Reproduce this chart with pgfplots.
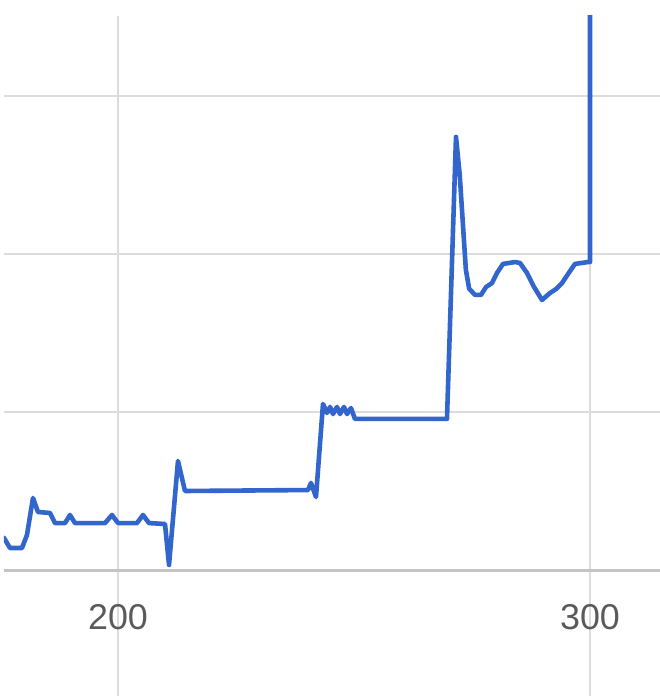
\documentclass[border=0pt]{standalone}
\usepackage{fontspec}
\setmainfont{Liberation Sans}
\usepackage{pgfplots}
\pgfplotsset{compat=1.18}
\definecolor{lineblue}{HTML}{3366CC}
\definecolor{gridc}{HTML}{DCDCDC}
\definecolor{axisc}{HTML}{C4C4C4}
\definecolor{labc}{HTML}{5A5A5A}
\begin{document}
\begin{tikzpicture}
\path[use as bounding box] (-4bp,-126bp) rectangle (656bp,570bp);
\draw[gridc, line width=2.5bp] (114bp,0) -- (114bp,-126bp);
\draw[gridc, line width=2.5bp] (586bp,0) -- (586bp,-126bp);
\begin{axis}[
  scale only axis,
  width=656bp, height=554bp,
  xmin=175.85, xmax=314.83,
  ymin=0, ymax=3.506,
  axis line style={draw=none},
  major tick length=0pt,
  xtick={200,300},
  ytick={1,2,3},
  yticklabels={},
  extra y ticks={0},
  extra y tick labels={},
  extra y tick style={grid style={axisc, line width=3bp}},
  xmajorgrids, ymajorgrids,
  grid style={gridc, line width=2.5bp},
  xticklabel style={font=\fontsize{36}{40}\selectfont, text=labc, anchor=north, inner sep=0pt, yshift=-34bp},
  /pgf/number format/assume math mode=true,
]
\addplot[lineblue, line width=4.6bp, line join=round, line cap=round] coordinates {
(175.85,0.203) (177.12,0.139) (179.66,0.139) (180.72,0.222) (181.99,0.456)
(183.05,0.367) (185.59,0.361) (186.65,0.297) (188.77,0.297) (189.83,0.348)
(190.89,0.297) (197.25,0.297) (198.73,0.348) (200.00,0.297) (204.03,0.297)
(205.30,0.348) (206.57,0.297) (209.96,0.291) (210.81,0.032) (212.71,0.690)
(214.19,0.500) (240.25,0.506) (240.89,0.551) (241.95,0.462) (243.43,1.051)
(244.28,0.994) (244.92,1.032) (245.55,0.987) (246.40,1.032) (247.03,0.987)
(247.88,1.032) (248.52,0.987) (249.36,1.025) (250.21,0.956) (269.70,0.956)
(271.61,2.741) (272.40,2.500) (273.70,1.900) (274.40,1.780) (275.64,1.741) (276.91,1.741) (277.97,1.791)
(279.24,1.816) (280.30,1.880) (281.57,1.937) (284.11,1.949) (285.17,1.943)
(286.65,1.880) (288.14,1.791) (289.83,1.709) (291.53,1.753) (292.80,1.778)
(294.07,1.816) (295.34,1.873) (296.82,1.937) (299.58,1.949) (300.00,1.949)
(300.00,3.95)
};
\end{axis}
\end{tikzpicture}
\end{document}
